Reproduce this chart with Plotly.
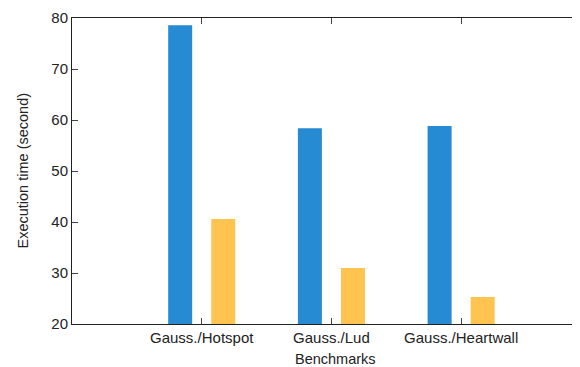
import plotly.graph_objects as go

categories = ["Gauss./Hotspot", "Gauss./Lud", "Gauss./Heartwall"]
series_a = [78.6, 58.4, 58.8]
series_b = [40.6, 31.0, 25.3]
y_ticks = [20, 30, 40, 50, 60, 70, 80]

FONT = "Liberation Sans, Arial, Helvetica, sans-serif"
BLUE = "#268BD2"
ORANGE = "#FFC44F"

fig = go.Figure()
fig.add_trace(go.Bar(x=categories, y=series_a, marker=dict(color=BLUE, line=dict(width=0)),
                     width=0.185, offset=-0.2585, name="A"))
fig.add_trace(go.Bar(x=categories, y=series_b, marker=dict(color=ORANGE, line=dict(width=0)),
                     width=0.185, offset=0.0735, name="B"))

# page body has an 8px margin, so the figure is shifted by 8px in the window
fig.update_layout(
    width=580, height=367,
    margin=dict(l=64, r=0, t=10, b=51),
    paper_bgcolor="white", plot_bgcolor="white",
    showlegend=False, barmode="overlay",
    font=dict(family=FONT, size=15, color="#222222"),
)
fig.update_xaxes(
    type="category", range=[-1, 2.978], automargin=False,
    showline=True, linecolor="#222222", linewidth=1, mirror="ticks",
    ticks="inside", ticklen=6, tickcolor="#444444", tickwidth=1,
    showgrid=False, zeroline=False,
    tickfont=dict(size=15),
)
fig.update_yaxes(
    range=[20, 80], tickvals=y_ticks, automargin=False,
    showline=True, linecolor="#222222", linewidth=1, mirror=False,
    ticks="inside", ticklen=6, tickcolor="#444444", tickwidth=1,
    showgrid=False, zeroline=False,
    tickfont=dict(size=15),
)
fig.add_annotation(text="Benchmarks", xref="paper", yref="paper", x=0.5097, y=0,
                   yshift=-35, showarrow=False, font=dict(size=14.5), yanchor="middle")
fig.add_annotation(text="Execution time (second)", xref="paper", yref="paper", x=0, y=0.5,
                   xshift=-49.5, showarrow=False, font=dict(size=14.5), textangle=-90,
                   xanchor="center")
fig.write_html("out.html")
